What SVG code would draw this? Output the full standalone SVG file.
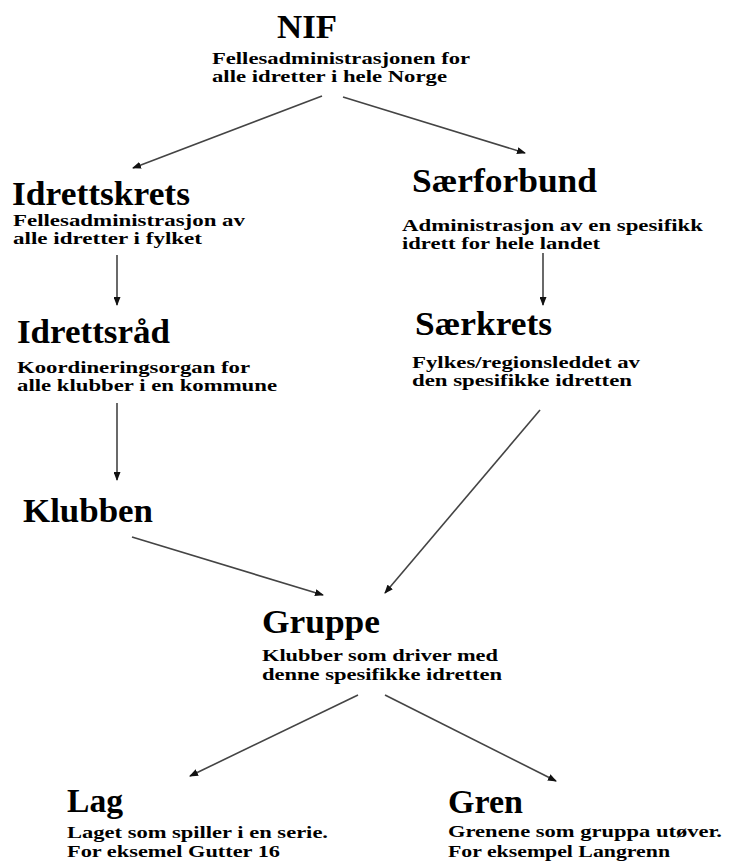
<svg xmlns="http://www.w3.org/2000/svg" width="731" height="864" viewBox="0 0 731 864">
<style>
text { font-family: "Liberation Serif", "Times New Roman", serif; font-weight: bold; fill: #000; }
.t { font-size: 34px; }
.s { font-size: 16px; }
.c { stroke: #444; stroke-width: 1.6; fill: none; marker-end: url(#ah); }
</style>
<defs>
<marker id="ah" markerUnits="userSpaceOnUse" markerWidth="9" markerHeight="7" refX="8" refY="3.5" orient="auto">
<path d="M0,0 L9,3.5 L0,7 z" fill="#111"/>
</marker>
</defs>
<rect width="731" height="864" fill="#fff"/>
<g id="connectors">
<line class="c" x1="322" y1="96" x2="133" y2="168"/>
<line class="c" x1="343" y1="97" x2="525" y2="153"/>
<line class="c" x1="117" y1="255" x2="117" y2="305"/>
<line class="c" x1="543" y1="253" x2="543" y2="305"/>
<line class="c" x1="117" y1="403" x2="117" y2="480"/>
<line class="c" x1="540" y1="410" x2="385" y2="593"/>
<line class="c" x1="132" y1="537" x2="323" y2="595"/>
<line class="c" x1="358" y1="695" x2="190" y2="776"/>
<line class="c" x1="385" y1="695" x2="556" y2="781"/>
</g>
<g id="nif">
<text class="t" x="277" y="38" textLength="60" lengthAdjust="spacingAndGlyphs">NIF</text>
<text class="s" x="212" y="64" textLength="258" lengthAdjust="spacingAndGlyphs">Fellesadministrasjonen for</text>
<text class="s" x="212" y="82" textLength="235" lengthAdjust="spacingAndGlyphs">alle idretter i hele Norge</text>
</g>
<g id="idrettskrets">
<text class="t" x="12" y="205" textLength="178" lengthAdjust="spacingAndGlyphs">Idrettskrets</text>
<text class="s" x="13" y="226" textLength="232" lengthAdjust="spacingAndGlyphs">Fellesadministrasjon av</text>
<text class="s" x="13" y="244" textLength="189" lengthAdjust="spacingAndGlyphs">alle idretter i fylket</text>
</g>
<g id="saerforbund">
<text class="t" x="412" y="192" textLength="185" lengthAdjust="spacingAndGlyphs">Særforbund</text>
<text class="s" x="402" y="231" textLength="301" lengthAdjust="spacingAndGlyphs">Administrasjon av en spesifikk</text>
<text class="s" x="402" y="249" textLength="198" lengthAdjust="spacingAndGlyphs">idrett for hele landet</text>
</g>
<g id="idrettsrad">
<text class="t" x="17" y="343" textLength="153" lengthAdjust="spacingAndGlyphs">Idrettsråd</text>
<text class="s" x="17" y="373" textLength="233" lengthAdjust="spacingAndGlyphs">Koordineringsorgan for</text>
<text class="s" x="17" y="391" textLength="260" lengthAdjust="spacingAndGlyphs">alle klubber i en kommune</text>
</g>
<g id="saerkrets">
<text class="t" x="415" y="335" textLength="137" lengthAdjust="spacingAndGlyphs">Særkrets</text>
<text class="s" x="412" y="368" textLength="228" lengthAdjust="spacingAndGlyphs">Fylkes/regionsleddet av</text>
<text class="s" x="412" y="386" textLength="220" lengthAdjust="spacingAndGlyphs">den spesifikke idretten</text>
</g>
<g id="klubben">
<text class="t" x="23" y="522" textLength="130" lengthAdjust="spacingAndGlyphs">Klubben</text>
</g>
<g id="gruppe">
<text class="t" x="262" y="633" textLength="118" lengthAdjust="spacingAndGlyphs">Gruppe</text>
<text class="s" x="262" y="661" textLength="236" lengthAdjust="spacingAndGlyphs">Klubber som driver med</text>
<text class="s" x="262" y="680" textLength="240" lengthAdjust="spacingAndGlyphs">denne spesifikke idretten</text>
</g>
<g id="lag">
<text class="t" x="67" y="812" textLength="56" lengthAdjust="spacingAndGlyphs">Lag</text>
<text class="s" x="67" y="838" textLength="261" lengthAdjust="spacingAndGlyphs">Laget som spiller i en serie.</text>
<text class="s" x="67" y="857" textLength="213" lengthAdjust="spacingAndGlyphs">For eksemel Gutter 16</text>
</g>
<g id="gren">
<text class="t" x="448" y="813" textLength="75" lengthAdjust="spacingAndGlyphs">Gren</text>
<text class="s" x="448" y="837" textLength="274" lengthAdjust="spacingAndGlyphs">Grenene som gruppa utøver.</text>
<text class="s" x="448" y="857" textLength="222" lengthAdjust="spacingAndGlyphs">For eksempel Langrenn</text>
</g>
</svg>
